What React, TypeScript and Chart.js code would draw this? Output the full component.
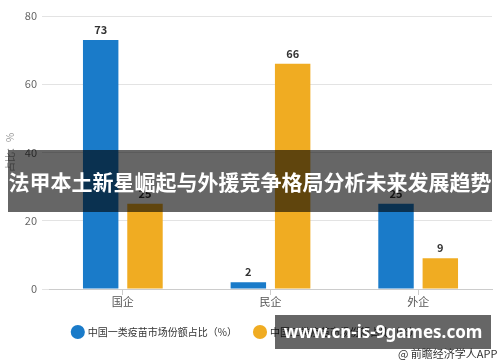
import React, { useEffect, useRef } from "react";
import { Chart, registerables } from "chart.js";

Chart.register(...registerables);

const categories = ["国企", "民企", "外企"];
const seriesNames = ["中国一类疫苗市场份额占比（%）", "中国二类疫苗市场份额占比（%）"];
const class1Values = [73, 2, 25];
const class2Values = [25, 66, 9];
const yTicks = [0, 20, 40, 60, 80];
const yTitle = "占比：%";
const bannerText = "法甲本土新星崛起与外援竞争格局分析未来发展趋势";
const siteText = "www.cn-is-9games.com";
const sourceText = "@ 前瞻经济学人APP";

const BLUE = "#1a7bc9";
const ORANGE = "#f0ac22";
const FONT = "'Noto Sans CJK SC', 'Noto Sans', sans-serif";

const valueLabels = {
  id: "valueLabels",
  afterDatasetsDraw(chart: any) {
    const ctx = chart.ctx;
    ctx.save();
    ctx.font = `bold 11px ${FONT}`;
    ctx.fillStyle = "#333";
    ctx.textAlign = "center";
    ctx.textBaseline = "middle";
    chart.data.datasets.forEach((ds: any, i: number) => {
      const meta = chart.getDatasetMeta(i);
      meta.data.forEach((bar: any, j: number) => {
        ctx.fillText(String(ds.data[j]), bar.x, bar.y - 10);
      });
    });
    ctx.restore();
  },
};

export default function App() {
  const ref = useRef<HTMLCanvasElement>(null);
  useEffect(() => {
    const chart = new Chart(ref.current!, {
      type: "bar",
      data: {
        labels: categories,
        datasets: [
          { label: seriesNames[0], data: class1Values, backgroundColor: BLUE, categoryPercentage: 0.6, barPercentage: 0.8 },
          { label: seriesNames[1], data: class2Values, backgroundColor: ORANGE, categoryPercentage: 0.6, barPercentage: 0.8 },
        ],
      },
      options: {
        animation: false,
        responsive: false,
        layout: { padding: { top: 16, right: 8, bottom: 15, left: 0 } },
        plugins: {
          tooltip: { enabled: false },
          legend: {
            position: "bottom",
            labels: {
              usePointStyle: true,
              pointStyle: "circle",
              boxWidth: 10,
              boxHeight: 10,
              padding: 18,
              color: "#333",
              font: { family: FONT, size: 10 },
            },
          },
        },
        scales: {
          x: {
            grid: { color: "transparent", tickColor: "#ccc", tickLength: 6, offset: false },
            border: { color: "#ccc" },
            ticks: { color: "#555", padding: 0, font: { family: FONT, size: 11 } },
            afterFit: (s: any) => { s.height = 20; },
          },
          y: {
            min: 0,
            max: 80,
            afterBuildTicks: (s: any) => { s.ticks = yTicks.map((v) => ({ value: v })); },
            grid: { color: "#e3e3e3", tickColor: "#e3e3e3", drawTicks: true, tickLength: 7 },
            border: { display: false },
            ticks: { color: "#666", padding: 5, font: { family: FONT, size: 11 } },
            title: { display: true, text: yTitle, color: "#999", font: { family: FONT, size: 10 }, padding: { top: 4, bottom: 4 } },
            afterFit: (s: any) => { s.width = 49; },
          },
        },
      },
      plugins: [valueLabels],
    });
    return () => chart.destroy();
  }, []);

  return (
    <div style={{ position: "fixed", left: 0, top: 0, width: 500, height: 362, background: "#fff", overflow: "hidden" }}>
      <canvas ref={ref} width={500} height={362} style={{ position: "absolute", left: 0, top: 0, width: 500, height: 362 }} />
      <div style={{ position: "absolute", left: 8, top: 150, width: 484, height: 62, background: "rgba(0,0,0,0.6)", color: "#fff", fontFamily: FONT, fontWeight: 700, fontSize: 21, lineHeight: "62px", whiteSpace: "nowrap", textAlign: "center" }}>
        {bannerText}
      </div>
      <div style={{ position: "absolute", left: 275, top: 315, width: 216, height: 34, background: "rgba(0,0,0,0.6)", color: "#fff", fontFamily: "'Noto Sans', sans-serif", fontWeight: 700, fontSize: 17, lineHeight: "34px", whiteSpace: "nowrap", textAlign: "center" }}>
        {siteText}
      </div>
      <div style={{ position: "absolute", left: 398, top: 346, color: "#333", fontFamily: FONT, fontSize: 11, lineHeight: "14px", whiteSpace: "nowrap" }}>
        {sourceText}
      </div>
    </div>
  );
}
